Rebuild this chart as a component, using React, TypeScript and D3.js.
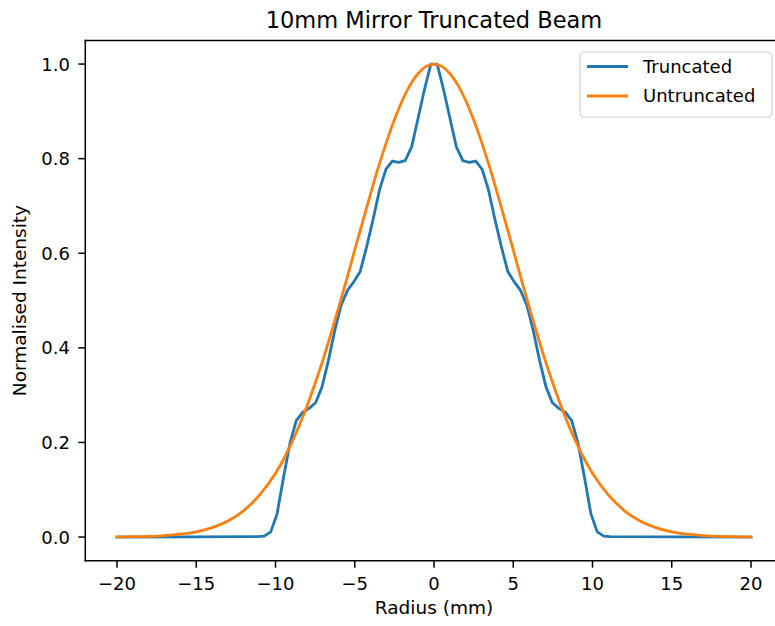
import React from "react";
import * as d3 from "d3";

// ---- data ----
const truncX = [
  -20, -11.11, -10.71, -10.3, -9.9, -9.49, -9.09, -8.69, -8.28, -7.88, -7.47, -7.07, -6.67, -6.26, -5.86, -5.45,
  -5.05, -4.65, -4.24, -3.84, -3.43, -3.03, -2.63, -2.22, -1.82, -1.41, -1.01, -0.61, -0.2,
  0.2, 0.61, 1.01, 1.41, 1.82, 2.22, 2.63, 3.03, 3.43, 3.84, 4.24, 4.65, 5.05, 5.45, 5.86, 6.26,
  6.67, 7.07, 7.47, 7.88, 8.28, 8.69, 9.09, 9.49, 9.9, 10.3, 10.71, 11.11, 20,
];
const truncY = [
  0.0, 0.001, 0.002, 0.011, 0.049, 0.127, 0.198, 0.246, 0.264, 0.272, 0.284, 0.317, 0.372, 0.437, 0.49, 0.522,
  0.54, 0.562, 0.615, 0.672, 0.735, 0.778, 0.795, 0.792, 0.796, 0.825, 0.885, 0.945, 1.0,
  1.0, 0.945, 0.885, 0.825, 0.796, 0.792, 0.795, 0.778, 0.735, 0.672, 0.615, 0.562, 0.54, 0.522, 0.49, 0.437,
  0.372, 0.317, 0.284, 0.272, 0.264, 0.246, 0.198, 0.127, 0.049, 0.011, 0.002, 0.001, 0.0,
];
const untruncX = [
  -20, -19, -18, -17, -16, -15, -14, -13, -12, -11, -10, -9.5, -9, -8.5, -8, -7.5, -7, -6.5, -6, -5.5, -5,
  -4.5, -4, -3.5, -3, -2.5, -2, -1.5, -1, -0.5, 0, 0.5, 1, 1.5, 2, 2.5, 3, 3.5, 4, 4.5, 5, 5.5, 6, 6.5, 7,
  7.5, 8, 8.5, 9, 9.5, 10, 11, 12, 13, 14, 15, 16, 17, 18, 19, 20,
];
const untruncY = [
  0.0003, 0.0007, 0.0015, 0.0031, 0.006, 0.011, 0.02, 0.034, 0.056, 0.089, 0.135, 0.164, 0.198, 0.236, 0.278,
  0.325, 0.375, 0.43, 0.487, 0.546, 0.607, 0.667, 0.726, 0.783, 0.835, 0.882, 0.923, 0.956, 0.98, 0.995, 1.0,
  0.995, 0.98, 0.956, 0.923, 0.882, 0.835, 0.783, 0.726, 0.667, 0.607, 0.546, 0.487, 0.43, 0.375, 0.325, 0.278,
  0.236, 0.198, 0.164, 0.135, 0.089, 0.056, 0.034, 0.02, 0.011, 0.006, 0.0031, 0.0015, 0.0007, 0.0003,
];
const xTicks = [-20, -15, -10, -5, 0, 5, 10, 15, 20];
const yTicks = [0.0, 0.2, 0.4, 0.6, 0.8, 1.0];
const seriesNames = ["Truncated", "Untruncated"];
const title = "10mm Mirror Truncated Beam";
const xLabel = "Radius (mm)";
const yLabel = "Normalised Intensity";

const W = 775;
const H = 626;
const FONT = "'DejaVu Sans', sans-serif";
const BLUE = "#1f77b4";
const ORANGE = "#ff7f0e";

export default function App() {
  const left = 85.3;
  const right = 782.7;
  const top = 40.4;
  const bottom = 560.7;
  const x = d3.scaleLinear().domain([-22, 22]).range([left, right]);
  const y = d3.scaleLinear().domain([-0.05, 1.05]).range([bottom, top]);

  const tData = truncX.map((v, i) => [v, truncY[i]] as [number, number]);
  const uData = untruncX.map((v, i) => [v, untruncY[i]] as [number, number]);
  const lineLin = d3.line<[number, number]>().x((d) => x(d[0])).y((d) => y(d[1]));
  const lineSmooth = d3
    .line<[number, number]>()
    .x((d) => x(d[0]))
    .y((d) => y(d[1]))
    .curve(d3.curveMonotoneX);

  const fmtY = d3.format(".1f");
  const fmtX = (v: number) => (v < 0 ? "\u2212" + Math.abs(v) : String(v));

  const legX = 580;
  const legY = 52;
  const legW = 192;
  const legH = 65;

  return (
    <svg
      width={W}
      height={H}
      style={{ position: "absolute", left: 0, top: 0, background: "#fff" }}
      fontFamily={FONT}
    >
      <rect x={0} y={0} width={W} height={H} fill="#fff" />
      <text x={(left + right) / 2} y={27.5} textAnchor="middle" fontSize={22.5} fill="#000">
        {title}
      </text>

      <defs>
        <clipPath id="plotclip">
          <rect x={left} y={top} width={right - left} height={bottom - top} />
        </clipPath>
      </defs>

      <g clipPath="url(#plotclip)" fill="none" strokeLinejoin="round" strokeLinecap="square">
        <path d={lineLin(tData) || ""} stroke={BLUE} strokeWidth={2.8} />
        <path d={lineSmooth(uData) || ""} stroke={ORANGE} strokeWidth={2.8} />
      </g>

      {/* spines (right spine lies outside the visible page) */}
      <g stroke="#000" strokeWidth={1.5} strokeLinecap="square">
        <line x1={left} x2={left} y1={top} y2={bottom} />
        <line x1={left} x2={right} y1={bottom} y2={bottom} />
        <line x1={left} x2={right} y1={top} y2={top} />
      </g>

      {/* x ticks */}
      {xTicks.map((t) => (
        <g key={"x" + t}>
          <line x1={x(t)} x2={x(t)} y1={bottom} y2={bottom + 7} stroke="#000" strokeWidth={1.5} />
          <text x={x(t)} y={590} textAnchor="middle" fontSize={18} fill="#000">
            {fmtX(t)}
          </text>
        </g>
      ))}
      {/* y ticks */}
      {yTicks.map((t) => (
        <g key={"y" + t}>
          <line x1={left - 7} x2={left} y1={y(t)} y2={y(t)} stroke="#000" strokeWidth={1.5} />
          <text x={70} y={y(t)} dy="0.36em" textAnchor="end" fontSize={18} fill="#000">
            {fmtY(t)}
          </text>
        </g>
      ))}

      <text x={(left + right) / 2} y={614} textAnchor="middle" fontSize={18.5} fill="#000">
        {xLabel}
      </text>
      <text
        transform={`translate(26, ${(top + bottom) / 2}) rotate(-90)`}
        textAnchor="middle"
        fontSize={18.5}
        fill="#000"
      >
        {yLabel}
      </text>

      {/* legend */}
      <rect x={legX} y={legY} width={legW} height={legH} rx={4} ry={4} fill="#fff" fillOpacity={0.8} stroke="#d0d0d0" strokeWidth={1.2} />
      {seriesNames.map((name, i) => {
        const cy = legY + 14.5 + i * 29.5;
        return (
          <g key={name}>
            <line x1={legX + 7} x2={legX + 48} y1={cy} y2={cy} stroke={i === 0 ? BLUE : ORANGE} strokeWidth={2.8} />
            <text x={legX + 63} y={cy} dy="0.36em" fontSize={18} fill="#000">
              {name}
            </text>
          </g>
        );
      })}
    </svg>
  );
}
